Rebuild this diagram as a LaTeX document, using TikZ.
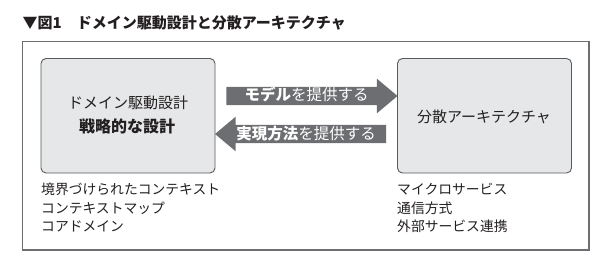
\documentclass[tikz,border=0pt]{standalone}
\usepackage{fontspec}
\setmainfont{Noto Sans CJK JP}
\usetikzlibrary{shapes.arrows}
\definecolor{boxfill}{HTML}{E6E7E8}
\definecolor{boxline}{HTML}{58595B}
\definecolor{arrowgray}{HTML}{6D6E71}
\definecolor{ink}{HTML}{231F20}
\definecolor{framegray}{HTML}{6D6E71}
\tikzset{
  mainbox/.style={draw=boxline, fill=boxfill, line width=0.9pt, rounded corners=5pt, minimum width=174pt, minimum height=114.5pt, inner sep=0pt},
  boxtext/.style={font=\fontsize{15}{18}\selectfont, text=ink, inner sep=0pt},
  listtext/.style={font=\fontsize{13.8}{18.5}\selectfont, text=ink, align=left, anchor=north west, inner sep=0pt},
  blockarrow/.style={single arrow, fill=arrowgray, draw=none, text=white,
    minimum height=171pt, minimum width=34pt, single arrow head extend=8pt,
    single arrow tip angle=80, inner xsep=0pt, inner ysep=2pt,
    text height=12pt, text depth=2pt, font=\fontsize{15.5}{18}\selectfont},
}
\begin{document}
\begin{tikzpicture}[x=1pt,y=-1pt]
\useasboundingbox (0,0) rectangle (612,267);
% title
\node[anchor=west, inner sep=0pt, text=ink, font=\fontsize{15}{18}\selectfont\bfseries] (title) at (22.5,23) {▼図1　ドメイン駆動設計と分散アーキテクチャ};
% frame
\draw[framegray, line width=1.1pt] (22.7,41.7) rectangle (589,250);
% boxes
\node[mainbox] (ddd) at (128,115.75) {};
\node[mainbox] (dist) at (484.5,115.75) {};
\node[boxtext] (ddd1) at (128,103) {ドメイン駆動設計};
\node[boxtext, font=\fontsize{16}{18}\selectfont\bfseries] (ddd2) at (127,126) {戦略的な設計};
\node[boxtext] (dist1) at (484,117) {分散アーキテクチャ};
% arrows
\node[blockarrow] (toright) at (306.5,96) {\textbf{モデル}を提供する};
\node[blockarrow, shape border rotate=180] (toleft) at (306,134) {\textbf{実現方法}を提供する};
% lists
\node[listtext] (llist) at (41,183) {境界づけられたコンテキスト\\コンテキストマップ\\コアドメイン};
\node[listtext] (rlist) at (397,183) {マイクロサービス\\通信方式\\外部サービス連携};
\end{tikzpicture}
\end{document}
